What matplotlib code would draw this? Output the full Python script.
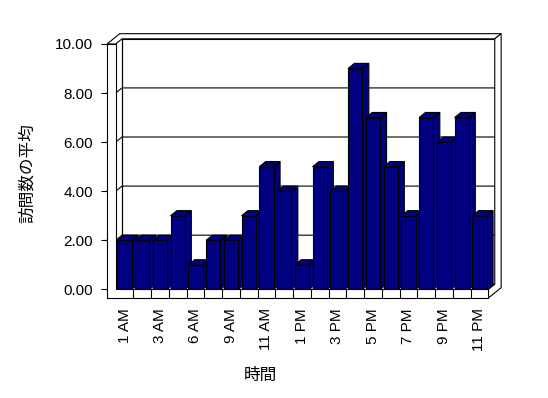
import matplotlib
matplotlib.use('Agg')
import matplotlib.pyplot as plt
from matplotlib.patches import Polygon, Rectangle

# average visits per hour (hours with no visits are not listed)
hours = ['1 AM', '2 AM', '3 AM', '5 AM', '6 AM', '8 AM', '9 AM', '10 AM',
         '11 AM', '12 PM', '1 PM', '2 PM', '3 PM', '4 PM', '5 PM', '6 PM',
         '7 PM', '8 PM', '9 PM', '10 PM', '11 PM']
avg_visits = [2, 2, 2, 3, 1, 2, 2, 3, 5, 4, 1, 5, 4, 9, 7, 5, 3, 7, 6, 7, 3]
y_ticks = [0, 2, 4, 6, 8, 10]

NAVY = '#000080'
LW = 0.8


def poly(ax, pts, fc, zorder):
    ax.add_patch(Polygon(pts, closed=True, facecolor=fc, edgecolor='black',
                         linewidth=LW, zorder=zorder, clip_on=False))


def plot():
    fig = plt.figure(figsize=(5.48, 3.98), dpi=100)
    W, H = 548.0, 398.0
    # axes box in pixels: left 107, right 505, top 30, bottom 298
    ax = fig.add_axes([107 / W, (H - 298) / H, (505 - 107) / W, (298 - 30) / H])
    ax.set_xlim(-0.986, 21.437)
    ax.set_ylim(-0.35, 10.57)
    for s in ax.spines.values():
        s.set_visible(False)

    n = len(hours)
    xl, xr = -0.5, n - 0.5      # floor extent
    wl = -0.986                 # outer edge of left wall
    fl = -0.35                  # bottom of floor slab
    top = max(y_ticks)
    dx, dy = 0.36, 0.21         # 3d depth offset
    hw = 0.405                  # half bar width

    # back wall, floor top
    poly(ax, [(xl + dx, dy), (xr + dx, dy), (xr + dx, top + dy), (xl + dx, top + dy)], 'white', 1)
    poly(ax, [(xl, 0), (xr, 0), (xr + dx, dy), (xl + dx, dy)], 'white', 1)

    # gridlines across left wall and back wall
    for v in y_ticks[1:-1]:
        ax.plot([wl, xl, xl + dx, xr + dx], [v, v, v + dy, v + dy],
                color='black', lw=LW, zorder=2, clip_on=False)
    ax.plot([xl + dx, xl + dx], [dy, top + dy], color='black', lw=LW, zorder=2, clip_on=False)

    # top of left and back walls
    poly(ax, [(wl, top), (xl, top), (xl + dx, top + dy), (xr + dx, top + dy),
              (xr + 2 * dx, top + 2 * dy), (wl + 2 * dx, top + 2 * dy)], 'white', 2)
    # right end of floor and back wall
    poly(ax, [(xr, fl), (xr + 2 * dx, fl + 2 * dy), (xr + 2 * dx, top + 2 * dy),
              (xr + dx, top + dy), (xr + dx, dy), (xr, 0)], 'white', 2)

    # bars, left to right so each front hides the previous side
    for i, v in enumerate(avg_visits):
        z = 3 + i * 0.01
        poly(ax, [(i + hw, 0), (i + hw + dx, dy), (i + hw + dx, v + dy), (i + hw, v)], NAVY, z)
        poly(ax, [(i - hw, v), (i + hw, v), (i + hw + dx, v + dy), (i - hw + dx, v + dy)], NAVY, z)
        ax.add_patch(Rectangle((i - hw, 0), 2 * hw, v, facecolor=NAVY, edgecolor='black',
                               linewidth=LW, zorder=z, clip_on=False))

    # front of left wall and floor
    poly(ax, [(wl, fl), (wl, top), (xl, top), (xl, 0), (xr, 0), (xr, fl)], 'white', 5)
    for i in range(n - 1):
        ax.plot([i + 0.5, i + 0.5], [fl, 0], color='black', lw=LW, zorder=6, clip_on=False)

    ax.set_yticks(y_ticks)
    ax.set_yticklabels(['%.2f' % v for v in y_ticks])
    ax.tick_params(axis='y', length=4.3, width=LW, pad=5.8, labelsize=11)
    ax.set_xticks(range(0, n, 2))
    ax.set_xticklabels(hours[::2], rotation=90)
    ax.tick_params(axis='x', length=0, pad=7.2, labelsize=11)
    for lab in ax.get_xticklabels() + ax.get_yticklabels():
        lab.set_family('Liberation Sans')

    cjk = ['Noto Sans CJK JP', 'DejaVu Sans']
    fig.text(260 / W, 1 - 375 / H, '時間', family=cjk, fontsize=12, ha='center', va='center')
    fig.text(27 / W, 1 - 173 / H, '訪問数の平均', family=cjk, fontsize=12,
             rotation=90, ha='center', va='center')

    fig.savefig('out.png', dpi=100)


def main():
    plot()


if __name__ == "__main__":
    main()
